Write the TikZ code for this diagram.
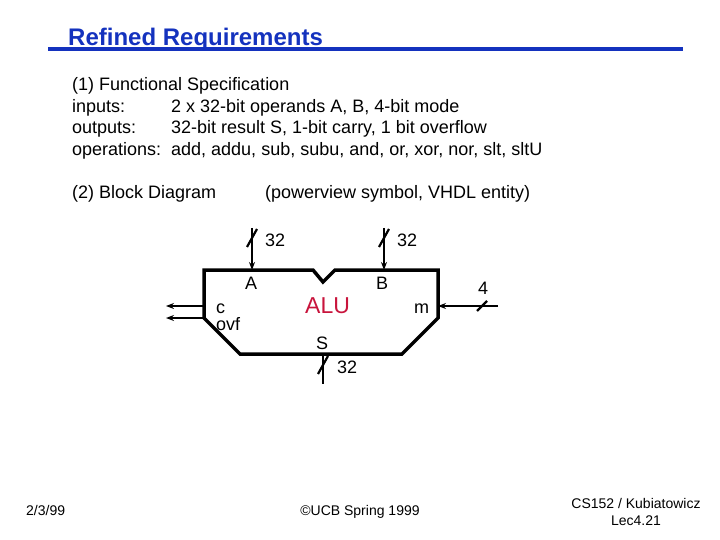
\documentclass[tikz,border=0pt]{standalone}
\usepackage{fontspec}
\setmainfont{Liberation Sans}
\usetikzlibrary{arrows.meta}
\definecolor{ttl}{RGB}{20,50,190}
\definecolor{alured}{RGB}{200,20,60}
\begin{document}
\begin{tikzpicture}[x=1pt,y=-1pt,
  txt/.style={anchor=base west,inner sep=0pt,font=\fontsize{18}{20}\selectfont},
  lbl/.style={inner sep=0pt,font=\fontsize{18}{20}\selectfont},
  wire/.style={line width=2.2pt,-{Stealth[length=8pt,width=6pt]}},
  slash/.style={line width=2.2pt},
  box/.style={line width=3.5pt,line join=miter}]
\useasboundingbox (0,0) rectangle (720,540);
\node[anchor=base west,inner sep=0pt,text=ttl,font=\fontsize{24}{26}\selectfont\bfseries] (title) at (68,46) {Refined Requirements};
\draw[ttl,line width=3.5pt] (48,49) -- (683,49);
\node[txt] (l1) at (72,91) {(1) Functional Specification};
\node[txt] (l2) at (72,113) {inputs:};
\node[txt] (l2b) at (171,113) {2 x 32-bit operands A, B, 4-bit mode};
\node[txt] (l3) at (72,134) {outputs:};
\node[txt] (l3b) at (171,134) {32-bit result S, 1-bit carry, 1 bit overflow};
\node[txt] (l4) at (72,156) {operations:};
\node[txt] (l4b) at (171,156) {add, addu, sub, subu, and, or, xor, nor, slt, sltU};
\node[txt] (l5) at (72,199) {(2) Block Diagram};
\node[txt] (l6) at (265,199) {(powerview symbol, VHDL entity)};
% ALU box
\draw[box] (204,270) -- (313,270) -- (323,282) -- (335,270) -- (438,270) -- (438,318) -- (402,354) -- (240,354) -- (204,318) -- cycle;
\coordinate (Ain) at (252,270);
\coordinate (Bin) at (384,270);
\coordinate (Atop) at (252,228);
\coordinate (Btop) at (384,228);
\coordinate (Sout) at (323,354);
\coordinate (Sbot) at (323,384);
\coordinate (min) at (438,306);
\coordinate (mend) at (498,306);
\coordinate (cout) at (204,306);
\coordinate (cend) at (166,306);
\coordinate (vout) at (204,318);
\coordinate (vend) at (166,318);
\draw[wire] (Atop) -- (Ain);
\draw[wire] (Btop) -- (Bin);
\draw[wire] (mend) -- (min);
\draw[wire] (cout) -- (cend);
\draw[wire] (vout) -- (vend);
\draw[line width=2.2pt] (Sout) -- (Sbot);
\draw[slash] (247,247) -- (257,229);
\draw[slash] (379,247) -- (389,229);
\draw[slash] (318,374) -- (328,356);
\draw[slash] (477,311) -- (487,301);
\node[lbl,anchor=base west] (n32a) at (265,246) {32};
\node[lbl,anchor=base west] (n32b) at (397,246) {32};
\node[lbl,anchor=base west] (n32s) at (337,373) {32};
\node[lbl,anchor=base west] (n4) at (478,294) {4};
\node[lbl,anchor=base west] (A) at (245,289) {A};
\node[lbl,anchor=base west] (B) at (376,289) {B};
\node[lbl,anchor=base west] (m) at (414,313) {m};
\node[lbl,anchor=base west] (c) at (216,313) {c};
\node[lbl,anchor=base west] (ovf) at (216,330) {ovf};
\node[lbl,anchor=base west] (S) at (316,349) {S};
\node[lbl,anchor=base west,text=alured,font=\fontsize{23}{26}\selectfont] (alu) at (305,313) {ALU};
% footer
\node[anchor=base west,inner sep=0pt,font=\fontsize{14}{16}\selectfont] (date) at (26,515) {2/3/99};
\node[anchor=base,inner sep=0pt,font=\fontsize{14}{16}\selectfont] (ucb) at (360,515) {©UCB Spring 1999};
\node[anchor=base,inner sep=0pt,font=\fontsize{14}{16}\selectfont] (cs) at (636,508) {CS152 / Kubiatowicz};
\node[anchor=base,inner sep=0pt,font=\fontsize{14}{16}\selectfont] (lec) at (636,525) {Lec4.21};
\end{tikzpicture}
\end{document}
